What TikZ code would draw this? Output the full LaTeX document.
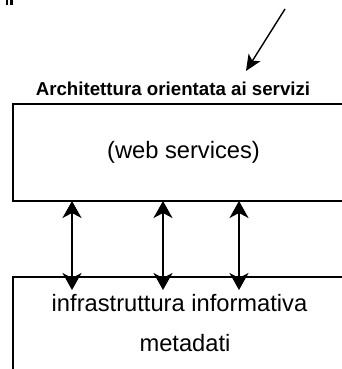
\documentclass[tikz,border=0pt]{standalone}
\usepackage{fontspec}
\setmainfont{Liberation Sans}
\usetikzlibrary{arrows.meta}
\begin{document}
\begin{tikzpicture}[x=1pt,y=-1pt,
  panel/.style={draw=black, line width=2pt, rectangle, inner sep=0pt, anchor=north west},
  label/.style={anchor=base, inner sep=0pt, font=\fontsize{23.7}{26}\selectfont},
  heading/.style={anchor=base, inner sep=0pt, font=\fontsize{18.7}{20}\selectfont\bfseries},
  link/.style={line width=1.8pt, {Stealth[length=17pt,width=19pt,inset=5pt]}-{Stealth[length=17pt,width=19pt,inset=5pt]}},
  pointer/.style={line width=1.4pt, -{Stealth[length=16pt,width=14pt,inset=4pt]}}]
\useasboundingbox (0,0) rectangle (341,369);

% fragment of a line of text above the picture
\fill (5.5,0) rectangle (8,5);
\fill (10,0) rectangle (13,5);

% service layer and information layer
\node[panel, minimum width=345pt, minimum height=97pt] (soa) at (12,103) {};
\node[panel, minimum width=345pt, minimum height=110pt] (infra) at (12,276) {};

\node[heading] (title) at (173,95.7) {Architettura orientata ai servizi};
\node[label] (ws) at (183.5,158) {(web services)};
\node[label] (ii) at (179.5,311.7) {infrastruttura informativa};
\node[label] (md) at (185,351) {metadati};

% incoming pointer
\coordinate (src) at (285,9);
\coordinate (dst) at (246,71);
\draw[pointer] (src) -- (dst);

% links between the two layers
\foreach \i/\x in {1/72,2/163,3/239}{
  \coordinate (up\i) at (\x,201);
  \coordinate (dn\i) at (\x,290);
  \draw[link] (dn\i) -- (up\i);
}
\end{tikzpicture}
\end{document}
